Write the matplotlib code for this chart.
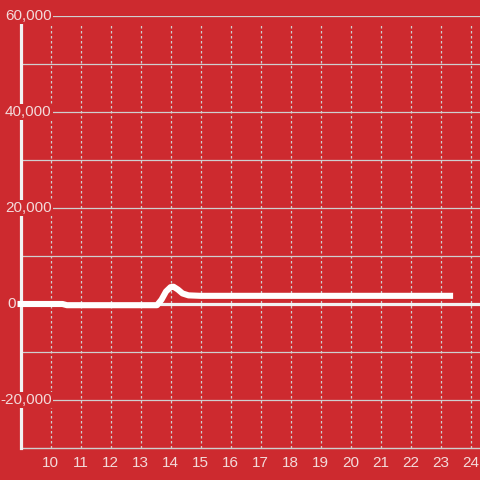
# %% SETUP
import numpy as np
import matplotlib
matplotlib.use('Agg')
import matplotlib.pyplot as plt

# chart data
x_vals = [8.9, 10.4, 10.55, 13.55, 13.7, 13.85, 14.0, 14.1, 14.25, 14.4, 14.6, 15.0, 23.42]
y_vals = [0, 0, -250, -250, 900, 2600, 3500, 3600, 3000, 2200, 1800, 1700, 1700]
x_ticks = list(range(10, 25))
y_ticks = [60000, 40000, 20000, 0, -20000]
y_labels = ['60,000', '40,000', '20,000', '0', '-20,000']
y_grid = [60000, 50000, 40000, 30000, 20000, 10000, -10000, -20000]

bg = '#cd2a2f'
txt = '#f3dada'
grid = '#cfcfcf'

plt.rcParams['font.family'] = ['Liberation Sans', 'DejaVu Sans']

# %% PLOT
fig = plt.figure(figsize=(4.8, 4.8), dpi=100, facecolor=bg)
ax = fig.add_axes([20.5 / 480, 32 / 480, 459.5 / 480, 432 / 480])
ax.set_facecolor(bg)
ax.set_xlim(9, 9 + 459.5 / 30)
ax.set_ylim(-30000, 60000)

# horizontal solid grid lines
for g in y_grid:
    ax.axhline(g, color=grid, lw=0.9, zorder=1)
# vertical dotted grid lines
ax.vlines(x_ticks, -30000, 58300, colors=grid, linestyles=(0, (2, 2)), lw=0.9, zorder=1)
# zero line
ax.axhline(0, color='#f2f2f2', lw=2.3, zorder=2)

# the series
ax.plot(x_vals, y_vals, color='white', lw=4.4, solid_joinstyle='round',
        solid_capstyle='butt', zorder=4, clip_on=False)

# spines
for s in ['top', 'right']:
    ax.spines[s].set_visible(False)
ax.spines['left'].set_color('#f2f2f2')
ax.spines['left'].set_linewidth(2.3)
ax.spines['left'].set_bounds(-30000, 58300)
ax.spines['bottom'].set_color(grid)
ax.spines['bottom'].set_linewidth(1.0)
ax.spines['left'].set_zorder(3)

# ticks
ax.set_xticks(x_ticks)
ax.set_xticklabels([str(t) for t in x_ticks])
ax.tick_params(axis='x', length=0, pad=6, labelsize=11, labelcolor=txt)
ax.set_yticks([])

# y labels sit on top of the axis with a red box behind them
tr = ax.get_yaxis_transform()
for v, lab in zip(y_ticks, y_labels):
    xpos = -0.011 if v == 0 else 0.0675
    ax.text(xpos, v, lab, transform=tr, ha='right', va='center', fontsize=11,
            color=txt, zorder=5, clip_on=False,
            bbox=dict(facecolor=bg, edgecolor='none', pad=1.0))

fig.savefig('out.png', dpi=100, facecolor=bg)
